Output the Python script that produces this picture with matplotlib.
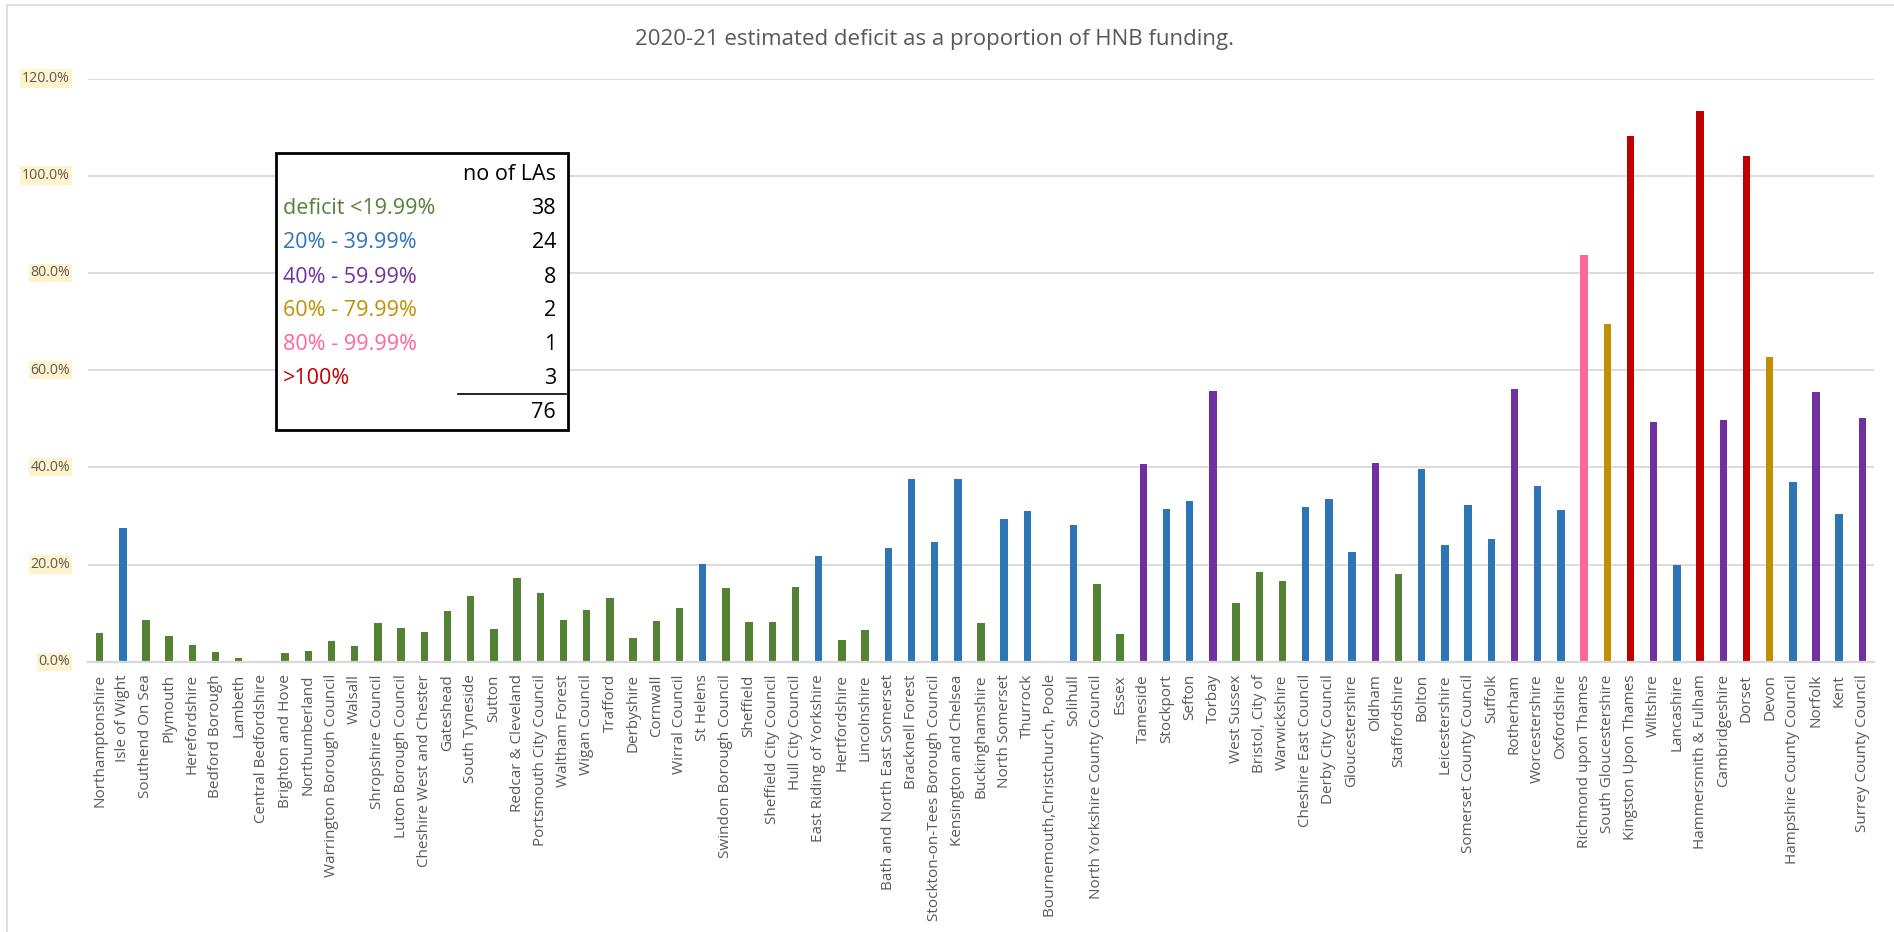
import matplotlib
matplotlib.use("Agg")
import matplotlib.pyplot as plt
from matplotlib.patches import Rectangle
from matplotlib.lines import Line2D
from matplotlib.transforms import blended_transform_factory

# ---------------- data ----------------
local_authorities = [
    "Northamptonshire", "Isle of Wight", "Southend On Sea", "Plymouth", "Herefordshire",
    "Bedford Borough", "Lambeth", "Central Bedfordshire", "Brighton and Hove", "Northumberland",
    "Warrington Borough Council", "Walsall", "Shropshire Council", "Luton Borough Council",
    "Cheshire West and Chester", "Gateshead", "South Tyneside", "Sutton", "Redcar & Cleveland",
    "Portsmouth City Council", "Waltham Forest", "Wigan Council", "Trafford", "Derbyshire",
    "Cornwall", "Wirral Council", "St Helens", "Swindon Borough Council", "Sheffield",
    "Sheffield City Council", "Hull City Council", "East Riding of Yorkshire", "Hertfordshire",
    "Lincolnshire", "Bath and North East Somerset", "Bracknell Forest",
    "Stockton-on-Tees Borough Council", "Kensington and Chelsea", "Buckinghamshire",
    "North Somerset", "Thurrock", "Bournemouth,Christchurch, Poole", "Solihull",
    "North Yorkshire County Council", "Essex", "Tameside", "Stockport", "Sefton", "Torbay",
    "West Sussex", "Bristol, City of", "Warwickshire", "Cheshire East Council",
    "Derby City Council", "Gloucestershire", "Oldham", "Staffordshire", "Bolton",
    "Leicestershire", "Somerset County Council", "Suffolk", "Rotherham", "Worcestershire",
    "Oxfordshire", "Richmond upon Thames", "South Gloucestershire", "Kingston Upon Thames",
    "Wiltshire", "Lancashire", "Hammersmith & Fulham", "Cambridgeshire", "Dorset", "Devon",
    "Hampshire County Council", "Norfolk", "Kent", "Surrey County Council",
]

deficit_pct = [
    6.0, 27.5, 8.6, 5.3, 3.4,
    2.0, 0.8, 0.0, 1.8, 2.2,
    4.3, 3.2, 8.0, 6.9,
    6.1, 10.4, 13.5, 6.7, 17.2,
    14.1, 8.6, 10.6, 13.1, 4.9,
    8.4, 11.0, 20.1, 15.1, 8.2,
    8.2, 15.3, 21.7, 4.5,
    6.5, 23.4, 37.5,
    24.6, 37.5, 7.9,
    29.3, 31.0, 0.0, 28.1,
    16.0, 5.7, 40.6, 31.4, 33.0, 55.6,
    12.1, 18.4, 16.6, 31.8,
    33.4, 22.5, 40.9, 18.0, 39.7,
    24.1, 32.3, 25.2, 56.1, 36.2,
    31.3, 83.6, 69.4, 108.2,
    49.4, 20.0, 113.3, 49.8, 104.1, 62.7,
    37.0, 55.5, 30.3, 50.2,
]

band_labels = ["deficit <19.99%", "20% - 39.99%", "40% - 59.99%",
               "60% - 79.99%", "80% - 99.99%", ">100%"]
band_counts = [38, 24, 8, 2, 1, 3]
band_total = 76
band_lower = [0, 20, 40, 60, 80, 100]
band_colors = ["#548235", "#2E75B6", "#7030A0", "#BF9000", "#FF6699", "#C00000"]

title = "2020-21 estimated deficit as a proportion of HNB funding."
y_ticks = [0, 20, 40, 60, 80, 100, 120]
y_tick_labels = ["0.0%", "20.0%", "40.0%", "60.0%", "80.0%", "100.0%", "120.0%"]


def band_of(v):
    idx = 0
    for i, lo in enumerate(band_lower):
        if v >= lo:
            idx = i
    return idx


bar_colors = [band_colors[band_of(v)] for v in deficit_pct]
values = [v / 100.0 for v in deficit_pct]

# ---------------- figure ----------------
W, H = 1894, 932
fig = plt.figure(figsize=(W / 100, H / 100), dpi=100)
fig.patch.set_facecolor("white")

FONT = ["Open Sans", "DejaVu Sans"]
GRAY_TXT = "#595959"
GRID = "#D9D9D9"

ax_left, ax_right = 88 / W, 1874 / W
ax_top, ax_bottom = 78.5 / H, 661.7 / H
ax = fig.add_axes([ax_left, 1 - ax_bottom, ax_right - ax_left, ax_bottom - ax_top])

x = list(range(len(values)))
ax.bar(x, values, width=0.32, color=bar_colors, zorder=3)

ax.set_xlim(-0.5, len(values) - 0.5)
ax.set_ylim(0, 1.2)
ax.set_yticks([t / 100 for t in y_ticks])
ax.set_yticklabels([])
ax.grid(axis="y", color=GRID, linewidth=1.3, zorder=0)
ax.set_axisbelow(True)
for s in ["top", "right", "left"]:
    ax.spines[s].set_visible(False)
ax.spines["bottom"].set_color(GRID)
ax.spines["bottom"].set_linewidth(1.6)
ax.spines["bottom"].set_zorder(4)
ax.tick_params(axis="y", length=0)
ax.tick_params(axis="x", length=0, pad=9)
ax.set_xticks(x)
ax.set_xticklabels(local_authorities, rotation=90, fontsize=11,
                   color=GRAY_TXT, family=FONT, va="top", ha="center")

# y tick labels with highlighted background
ytrans = blended_transform_factory(fig.transFigure, ax.transData)
for t, lab in zip(y_ticks, y_tick_labels):
    fig.text(70 / W, t / 100, lab, transform=ytrans,
             ha="right", va="center", fontsize=10.2, color=GRAY_TXT, family=FONT,
             bbox=dict(boxstyle="square,pad=0.12", facecolor="#FFF2CC", edgecolor="none"))

# title
fig.text(934 / W, 1 - 40 / H, title, ha="center", va="center",
         fontsize=16, color=GRAY_TXT, family=FONT)

# chart outer border (left and top)
fig.add_artist(Line2D([7 / W, 7 / W], [0, 1 - 5 / H], transform=fig.transFigure,
                      color="#D9D9D9", linewidth=1.2))
fig.add_artist(Line2D([7 / W, 1], [1 - 5 / H, 1 - 5 / H], transform=fig.transFigure,
                      color="#D9D9D9", linewidth=1.2))

# summary table box
bx0, by0, bx1, by1 = 276, 153, 568, 430
fig.add_artist(Rectangle((bx0 / W, 1 - by1 / H), (bx1 - bx0) / W, (by1 - by0) / H,
                         transform=fig.transFigure, facecolor="white",
                         edgecolor="black", linewidth=2.0, zorder=10))
left_x = 283 / W
right_x = 556 / W
TFS = 15.5
fig.text(right_x, 1 - 175 / H, "no of LAs", ha="right", va="center",
         fontsize=TFS, color="black", family=FONT, zorder=11)
row_y = [209, 243, 277, 311, 345, 379]
for yy, lab, cnt, col in zip(row_y, band_labels, band_counts, band_colors):
    fig.text(left_x, 1 - yy / H, lab, ha="left", va="center",
             fontsize=TFS, color=col, family=FONT, zorder=11)
    fig.text(right_x, 1 - yy / H, str(cnt), ha="right", va="center",
             fontsize=TFS, color="black", family=FONT, zorder=11)
fig.add_artist(Line2D([458 / W, 566 / W], [1 - 394 / H, 1 - 394 / H],
                      transform=fig.transFigure, color="black", linewidth=1.2, zorder=11))
fig.text(right_x, 1 - 413 / H, str(band_total), ha="right", va="center",
         fontsize=TFS, color="black", family=FONT, zorder=11)

fig.savefig("out.png", dpi=100, facecolor="white")
